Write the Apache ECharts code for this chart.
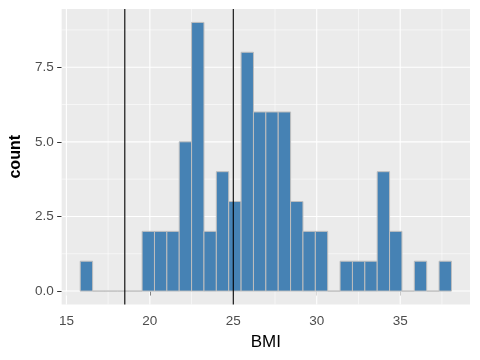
<!DOCTYPE html>
<html><head><meta charset="utf-8">
<script src="https://cdn.jsdelivr.net/npm/echarts@6/dist/echarts.min.js"></script>
<style>html,body{margin:0;padding:0;background:#fff}#c{width:480px;height:360px}</style>
</head><body><div id="c"></div>
<script>
// Histogram: centres of first and last bins, number of bins, counts per bin
const bmiMin = 16.2, bmiMax = 37.7;
const binCount = 30;
const counts = [1,0,0,0,0,2,2,2,5,9,2,4,3,8,6,6,6,3,2,2,0,1,1,1,4,2,0,1,0,1];
const refLines = [18.5, 25];
const xTicks = [15, 20, 25, 30, 35];
const xMinorTicks = [17.5, 22.5, 27.5, 32.5, 37.5];
const yTicks = [0, 2.5, 5, 7.5];
const yMinorTicks = [1.25, 3.75, 6.25, 8.75];

const binW = (bmiMax - bmiMin) / (binCount - 1);
const bins = counts.map((c, i) => [bmiMin - binW / 2 + i * binW, bmiMin + binW / 2 + i * binW, c]);

// ggplot-style 5% expansion
const xLo = Math.min(bins[0][0], ...refLines), xHi = Math.max(bins[bins.length - 1][1], ...refLines);
const xPad = (xHi - xLo) * 0.05;
const yHi = Math.max(...counts), yPad = yHi * 0.05;

const gridData = [];
xTicks.forEach(v => gridData.push([v, 0, 1]));
xMinorTicks.forEach(v => gridData.push([v, 0, 0]));
yTicks.forEach(v => gridData.push([v, 1, 1]));
yMinorTicks.forEach(v => gridData.push([v, 1, 0]));

const FONT = '"Liberation Sans", Arial, sans-serif';
const chart = echarts.init(document.getElementById('c'), null, {renderer: 'canvas'});
chart.setOption({
  animation: false,
  grid: {left: 59, right: 10, top: 9, bottom: 55.5, show: true, backgroundColor: '#EBEBEB', borderWidth: 0},
  xAxis: {
    type: 'value', min: xLo - xPad, max: xHi + xPad,
    splitLine: {show: false}, axisLine: {show: false},
    axisTick: {show: true, customValues: xTicks, length: 4.5, lineStyle: {color: '#333333', width: 1}},
    axisLabel: {customValues: xTicks, color: '#4D4D4D', fontSize: 13.5, fontFamily: FONT, margin: 10},
    name: 'BMI', nameLocation: 'middle', nameGap: 29,
    nameTextStyle: {fontSize: 17, fontWeight: 'normal', color: '#000', fontFamily: FONT}
  },
  yAxis: {
    type: 'value', min: -yPad, max: yHi + yPad,
    splitLine: {show: false}, axisLine: {show: false},
    axisTick: {show: true, customValues: yTicks, length: 4.5, lineStyle: {color: '#333333', width: 1}},
    axisLabel: {customValues: yTicks, color: '#4D4D4D', fontSize: 13.5, fontFamily: FONT, margin: 8,
      formatter: v => v.toFixed(1)},
    name: 'count', nameLocation: 'middle', nameGap: 33,
    nameTextStyle: {fontSize: 16, fontWeight: 'bold', color: '#000', fontFamily: FONT}
  },
  series: [
    {
      type: 'custom', silent: true, z: 1, data: gridData,
      encode: {x: 0},
      renderItem(params, api) {
        const cs = params.coordSys;
        const v = api.value(0), dir = api.value(1), major = api.value(2);
        let shape;
        if (dir === 0) {
          const p = api.coord([v, 0]);
          shape = {x1: p[0], y1: cs.y, x2: p[0], y2: cs.y + cs.height};
        } else {
          const p = api.coord([15, v]);
          shape = {x1: cs.x, y1: p[1], x2: cs.x + cs.width, y2: p[1]};
        }
        return {type: 'line', shape, style: {stroke: '#FFFFFF', lineWidth: major ? 1.1 : 0.55}};
      }
    },
    {
      type: 'custom', silent: true, z: 2, data: bins,
      encode: {x: [0, 1], y: 2},
      renderItem(params, api) {
        const a = api.coord([api.value(0), api.value(2)]);
        const b = api.coord([api.value(1), 0]);
        return {type: 'rect', shape: {x: a[0], y: a[1], width: b[0] - a[0], height: b[1] - a[1]},
          style: {fill: '#4682B4', stroke: '#BEBEBE', lineWidth: 1}};
      }
    },
    {
      type: 'custom', silent: true, z: 3, data: refLines.map(v => [v]),
      encode: {x: 0},
      renderItem(params, api) {
        const cs = params.coordSys;
        const p = api.coord([api.value(0), 0]);
        return {type: 'line', shape: {x1: p[0], y1: cs.y, x2: p[0], y2: cs.y + cs.height},
          style: {stroke: '#000000', lineWidth: 1.1}};
      }
    }
  ]
});
</script></body></html>
